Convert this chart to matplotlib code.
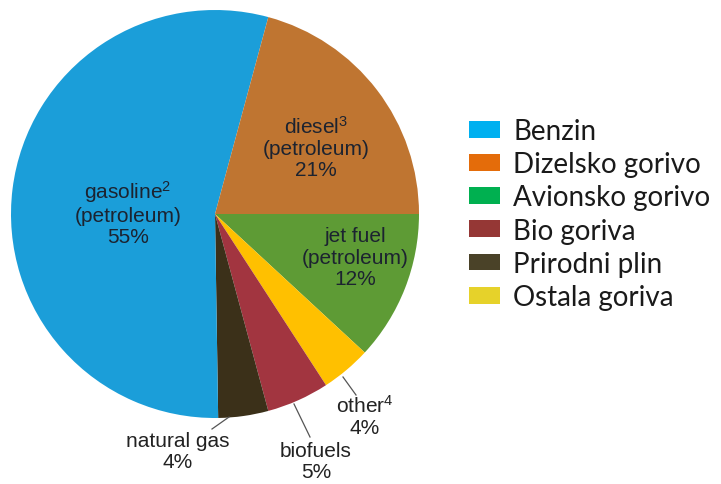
import matplotlib.pyplot as plt
from matplotlib.patches import Patch

# slice data (clockwise from 3 o'clock)
fuels = ['jet fuel', 'other', 'biofuels', 'natural gas', 'gasoline', 'diesel']
shares = [12, 4, 5, 4, 55, 21]
pie_colors = ['#5E9B35', '#FFC000', '#A23540', '#3B3019', '#1B9ED9', '#BF7531']

slice_labels = [r'jet fuel' + '\n(petroleum)\n12%',
                r'other$^4$' + '\n4%',
                'biofuels\n5%',
                'natural gas\n4%',
                r'gasoline$^2$' + '\n(petroleum)\n55%',
                r'diesel$^3$' + '\n(petroleum)\n21%']

legend_labels = ['Benzin', 'Dizelsko gorivo', 'Avionsko gorivo',
                 'Bio goriva', 'Prirodni plin', 'Ostala goriva']
legend_colors = ['#00B0F0', '#E46C0A', '#00B050', '#953735', '#4A4228', '#E6D22A']

plt.rcParams['font.family'] = ['Liberation Sans', 'DejaVu Sans']
plt.rcParams['mathtext.fontset'] = 'custom'
plt.rcParams['mathtext.rm'] = 'Liberation Sans'
plt.rcParams['mathtext.it'] = 'Liberation Sans'

W, H = 721, 485
fig = plt.figure(figsize=(W / 100, H / 100), dpi=100)

# pie centred at (215, 215) px from top, radius ~204 px
cx, cy, r = 215, 215, 204
ax = fig.add_axes([(cx - r) / W, (H - cy - r) / H, 2 * r / W, 2 * r / H])
wedges, _ = ax.pie(shares, colors=pie_colors, startangle=0, counterclock=False,
                   radius=1, wedgeprops=dict(linewidth=0))
ax.set_xlim(-1, 1)
ax.set_ylim(-1, 1)
ax.set_aspect('equal')
ax.axis('off')

txt = '#1c2330'
fs = 15
# label positions in data units (pie radius = 1)
def px(x, y):
    return ((x - cx) / r, (cy - y) / r)

inside = {0: (355, 258), 4: (128, 213), 5: (316, 148)}
for i, (x, y) in inside.items():
    ax.text(*px(x, y), slice_labels[i], ha='center', va='center',
            fontsize=fs, color=txt, linespacing=1.15)

outside = {1: ((365, 416), (343, 378), (356, 396)),
           2: ((316, 462), (294, 405), (310, 438)),
           3: ((178, 452), (229, 418), (212, 430))}
for i, (pos, a, b) in outside.items():
    t = ax.text(*px(*pos), slice_labels[i], ha='center', va='center',
                fontsize=fs, color='#222222', linespacing=1.15)
    t.set_clip_on(False)
    ln, = ax.plot([px(*a)[0], px(*b)[0]], [px(*a)[1], px(*b)[1]],
                  color='#555555', lw=0.9)
    ln.set_clip_on(False)

handles = [Patch(facecolor=c, edgecolor='none') for c in legend_colors]
fig.legend(handles, legend_labels, loc='upper left',
           bbox_to_anchor=(469 / W, 1 - 119 / H), frameon=False,
           prop={'family': 'Lato', 'size': 20}, handlelength=1.1,
           handleheight=0.55, handletextpad=0.5, labelspacing=0.26,
           borderaxespad=0, borderpad=0, labelcolor='#1a1a1a')

fig.savefig('out.png', dpi=100)
